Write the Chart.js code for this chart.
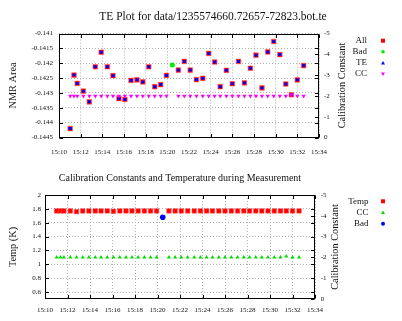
<!DOCTYPE html>
<html><head><meta charset="utf-8">
<script src="https://cdn.jsdelivr.net/npm/chart.js@4/dist/chart.umd.min.js"></script>
<style>
html,body{margin:0;padding:0;background:#fff;}
#wrap{position:relative;width:402px;height:321px;overflow:hidden;}
#c1{position:absolute;left:0;top:0;width:402px;height:160px;}
#c2{position:absolute;left:0;top:160px;width:402px;height:161px;}
</style></head><body>
<div id="wrap"><canvas id="c1" width="402" height="160"></canvas><canvas id="c2" width="402" height="161"></canvas></div>
<script>
// ---------- data ----------
const topTitle = 'TE Plot for data/1235574660.72657-72823.bot.te';
const bottomTitle = 'Calibration Constants and Temperature during Measurement';

const times = ['15:11:02','15:11:23','15:11:41','15:12:15','15:12:48','15:13:21','15:13:54','15:14:28','15:14:59','15:15:32',
  '15:16:05','15:16:39','15:17:12','15:17:44','15:18:17','15:18:50','15:19:23','15:19:55',
  '15:21:01','15:21:34','15:22:07','15:22:41','15:23:16','15:23:49','15:24:22','15:24:53','15:25:27','15:26:00',
  '15:26:34','15:27:07','15:27:40','15:28:11','15:28:44','15:29:16','15:29:49','15:30:23','15:30:56','15:31:27','15:32:00','15:32:35'];
const nmrArea = [-0.14420,-0.14240,-0.14268,-0.14294,-0.14330,-0.14212,-0.14163,-0.14212,-0.14242,-0.14319,
  -0.14322,-0.14258,-0.14256,-0.14263,-0.14212,-0.14279,-0.14272,-0.14241,
  -0.14223,-0.14194,-0.14223,-0.14255,-0.14251,-0.14167,-0.14196,-0.14279,-0.14224,-0.14269,
  -0.14194,-0.14266,-0.14217,-0.14173,-0.14283,-0.14162,-0.14127,-0.14171,-0.14270,-0.14306,-0.14256,-0.14208];
const calConst = [-2.0,-2.0,-2.0,-2.0,-2.0,-2.0,-2.0,-2.0,-2.0,-2.0,
  -2.0,-2.0,-2.0,-2.0,-2.0,-2.0,-2.0,-2.0,
  -2.0,-2.0,-2.0,-2.0,-2.0,-2.0,-2.0,-2.0,-2.0,-2.0,
  -2.0,-2.0,-2.0,-2.0,-2.0,-2.0,-2.0,-2.0,-2.0,-2.05,-2.0,-2.0];
const temps = [1.77,1.77,1.77,1.77,1.76,1.77,1.77,1.77,1.77,1.77,
  1.765,1.77,1.77,1.77,1.77,1.77,1.77,1.77,
  1.77,1.77,1.77,1.77,1.77,1.77,1.77,1.77,1.77,1.77,
  1.77,1.77,1.77,1.77,1.77,1.77,1.77,1.77,1.77,1.77,1.77,1.77];
const badTimes = ['15:20:28'];
const badArea = [-0.14206];
const badTemp = [1.68];

const xTickLabels = ['15:10','15:12','15:14','15:16','15:18','15:20','15:22','15:24','15:26','15:28','15:30','15:32','15:34'];
const areaTickLabels = ['-0.1445','-0.144','-0.1435','-0.143','-0.1425','-0.142','-0.1415','-0.141'];
const tempTickLabels = ['0.6','0.8','1','1.2','1.4','1.6','1.8','2'];
const calTickLabels = ['0','-1','-2','-3','-4','-5'];

// ---------- helpers ----------
function toMin(s){ const p = s.split(':').map(Number); return (p[0]-15)*60 + p[1] + (p[2]||0)/60; }
const FAM = "'Liberation Serif', 'DejaVu Serif', serif";
const tickFont = {family: FAM, size: 7};
const GRID = '#b0b0b0';
const TXT = '#111';
function labelFrom(arr, conv){ return v => { const l = arr.find(a => Math.abs(conv(a) - v) < 1e-9); return l === undefined ? '' : l; }; }
function setTicks(arr, conv){ return s => { s.ticks = arr.map(a => ({value: conv(a)})); }; }

function drawMarker(ctx, style, x, y, r, color){
  ctx.save();
  ctx.fillStyle = color;
  ctx.beginPath();
  if (style === 'rect') { ctx.rect(x - r, y - r, 2*r, 2*r); }
  else if (style === 'circle') { ctx.arc(x, y, r, 0, Math.PI*2); }
  else if (style === 'triUp') { ctx.moveTo(x, y - r); ctx.lineTo(x + r, y + r*0.8); ctx.lineTo(x - r, y + r*0.8); ctx.closePath(); }
  else if (style === 'triDown') { ctx.moveTo(x, y + r); ctx.lineTo(x + r, y - r*0.8); ctx.lineTo(x - r, y - r*0.8); ctx.closePath(); }
  ctx.fill();
  ctx.restore();
}

const decor = {
  id: 'decor',
  beforeDatasetsDraw(chart, args, o){
    const {ctx, chartArea: a} = chart;
    const L = Math.round(a.left) + 0.5, R = Math.round(a.right) - 0.5, T = Math.round(a.top) + 0.5, B = Math.round(a.bottom) - 0.5;
    ctx.save();
    ctx.strokeStyle = '#000'; ctx.lineWidth = 1; ctx.setLineDash([]);
    ctx.strokeRect(L, T, R - L, B - T);
    const tl = 3.5;
    ctx.beginPath();
    const xs = chart.scales.x;
    xs.ticks.forEach(t => { const p = Math.round(xs.getPixelForValue(t.value)) + 0.5; ctx.moveTo(p, B); ctx.lineTo(p, B - tl); ctx.moveTo(p, T); ctx.lineTo(p, T + tl); });
    const ys = chart.scales.y;
    ys.ticks.forEach(t => { const p = Math.round(ys.getPixelForValue(t.value)) + 0.5; ctx.moveTo(L, p); ctx.lineTo(L + tl, p); ctx.moveTo(R, p); ctx.lineTo(R - tl, p); });
    const y2 = chart.scales.y2;
    y2.ticks.forEach(t => { const p = Math.round(y2.getPixelForValue(t.value)) + 0.5; ctx.moveTo(R, p); ctx.lineTo(R - tl, p); });
    ctx.stroke();
    ctx.restore();
  },
  afterDraw(chart, args, o){
    const {ctx, chartArea: a} = chart;
    ctx.save();
    ctx.fillStyle = TXT;
    ctx.textAlign = 'center'; ctx.textBaseline = 'middle';
    ctx.font = o.titleSize + 'px ' + FAM;
    ctx.fillText(o.title, o.titleX, o.titleY);
    // right axis title (reads upward)
    ctx.save();
    ctx.translate(o.y2TitleX, (a.top + a.bottom) / 2);
    ctx.rotate(-Math.PI / 2);
    ctx.font = o.axisSize + 'px ' + FAM;
    ctx.fillText(o.y2Title, 0, 0);
    ctx.restore();
    // legend
    ctx.font = o.legendSize + 'px ' + FAM;
    ctx.textAlign = 'right';
    chart.data.datasets.forEach((ds, i) => {
      const y = o.legendY + i * o.legendDy;
      ctx.fillStyle = TXT;
      ctx.fillText(ds.label, o.legendTextX, y);
      drawMarker(ctx, ds.legendMarker, o.legendMarkX, y, ds.legendR, ds.backgroundColor);
    });
    ctx.restore();
  }
};

function xScale(h, pad){
  return {
    type: 'linear', position: 'bottom', min: toMin(xTickLabels[0]), max: toMin(xTickLabels[xTickLabels.length-1]),
    afterBuildTicks: setTicks(xTickLabels, toMin),
    ticks: {callback: labelFrom(xTickLabels, toMin), font: tickFont, color: TXT, padding: pad, autoSkip: false, maxRotation: 0},
    grid: {color: GRID, lineWidth: 1, drawTicks: false, borderDash: [1,2]},
    border: {display: false, dash: [1,2]},
    afterFit: s => { s.height = h; }
  };
}
function yScale(lo, hi, labels, w, pad, title, tpad){
  return {
    type: 'linear', position: 'left', min: lo, max: hi,
    afterBuildTicks: setTicks(labels, Number),
    ticks: {callback: labelFrom(labels, Number), font: tickFont, color: TXT, padding: pad, autoSkip: false},
    grid: {color: GRID, lineWidth: 1, drawTicks: false, borderDash: [1,2]},
    border: {display: false, dash: [1,2]},
    title: {display: true, text: title, font: {family: FAM, size: 10.3}, color: TXT, padding: {top: tpad, bottom: 0}},
    afterFit: s => { s.width = w; }
  };
}
function y2Scale(w, pad){
  return {
    type: 'linear', position: 'right', min: -5, max: 0, reverse: true,
    afterBuildTicks: setTicks(calTickLabels, Number),
    ticks: {callback: labelFrom(calTickLabels, Number), font: tickFont, color: TXT, padding: pad, autoSkip: false},
    grid: {display: false, drawTicks: false},
    border: {display: false},
    afterFit: s => { s.width = w; }
  };
}

const pts = (arrT, arrV) => arrT.map((t, i) => ({x: toMin(t), y: arrV[i]}));

// ---------- top chart ----------
new Chart(document.getElementById('c1'), {
  type: 'scatter',
  data: {datasets: [
    {label: 'All', data: pts(times, nmrArea), yAxisID: 'y', order: 4, pointStyle: 'rect', radius: 3.3,
     backgroundColor: '#ff0000', borderColor: 'rgba(255,80,80,0.55)', borderWidth: 1, legendMarker: 'rect', legendR: 2},
    {label: 'Bad', data: pts(badTimes, badArea), yAxisID: 'y', order: 3, pointStyle: 'circle', radius: 2.5,
     backgroundColor: '#00ee00', borderWidth: 0, legendMarker: 'circle', legendR: 1.8},
    {label: 'TE', data: pts(times, nmrArea), yAxisID: 'y', order: 2, pointStyle: 'rect', radius: 2.1,
     backgroundColor: '#0000ff', borderWidth: 0, legendMarker: 'triUp', legendR: 2},
    {label: 'CC', data: pts(times, calConst), yAxisID: 'y2', order: 1, pointStyle: 'triangle', rotation: 180, radius: 2.5,
     backgroundColor: '#ff00ff', borderWidth: 0, legendMarker: 'triDown', legendR: 2}
  ]},
  options: {
    responsive: false, animation: false, events: [],
    layout: {padding: {top: 33.5, left: 0, right: 0, bottom: 0}},
    scales: {
      x: xScale(22.5, 10),
      y: yScale(-0.1445, -0.141, areaTickLabels, 59, 6, 'NMR Area', 7),
      y2: y2Scale(83, 5)
    },
    plugins: {
      legend: {display: false}, title: {display: false}, tooltip: {enabled: false},
      decor: {title: topTitle, titleX: 213, titleY: 17, titleSize: 11.5, axisSize: 10.3, y2Title: 'Calibration Constant', y2TitleX: 342.7,
              legendSize: 9, legendTextX: 367, legendMarkX: 383, legendY: 40.7, legendDy: 11.1}
    }
  },
  plugins: [decor]
});

// ---------- bottom chart ----------
new Chart(document.getElementById('c2'), {
  type: 'scatter',
  data: {datasets: [
    {label: 'Temp', data: pts(times, temps), yAxisID: 'y', order: 3, pointStyle: 'rect', radius: 3.2,
     backgroundColor: '#ff0000', borderColor: 'rgba(255,80,80,0.5)', borderWidth: 1, legendMarker: 'rect', legendR: 2},
    {label: 'CC', data: pts(times, calConst), yAxisID: 'y2', order: 2, pointStyle: 'triangle', radius: 2.4,
     backgroundColor: '#00dd00', borderWidth: 0, legendMarker: 'triUp', legendR: 2},
    {label: 'Bad', data: pts(badTimes, badTemp), yAxisID: 'y', order: 1, pointStyle: 'circle', radius: 2.8,
     backgroundColor: '#0000ff', borderWidth: 0, legendMarker: 'circle', legendR: 2}
  ]},
  options: {
    responsive: false, animation: false, events: [],
    layout: {padding: {top: 35, left: 0, right: 0, bottom: 0}},
    scales: {
      x: xScale(22, 7),
      y: yScale(0.5, 2, tempTickLabels, 45, 4, 'Temp (K)', 7),
      y2: y2Scale(87, 5.7)
    },
    plugins: {
      legend: {display: false}, title: {display: false}, tooltip: {enabled: false},
      decor: {title: bottomTitle, titleX: 180, titleY: 18.3, titleSize: 10, axisSize: 10.3, y2Title: 'Calibration Constant', y2TitleX: 335,
              legendSize: 9, legendTextX: 368.5, legendMarkX: 383, legendY: 41.3, legendDy: 11.2}
    }
  },
  plugins: [decor]
});
</script>
</body></html>
